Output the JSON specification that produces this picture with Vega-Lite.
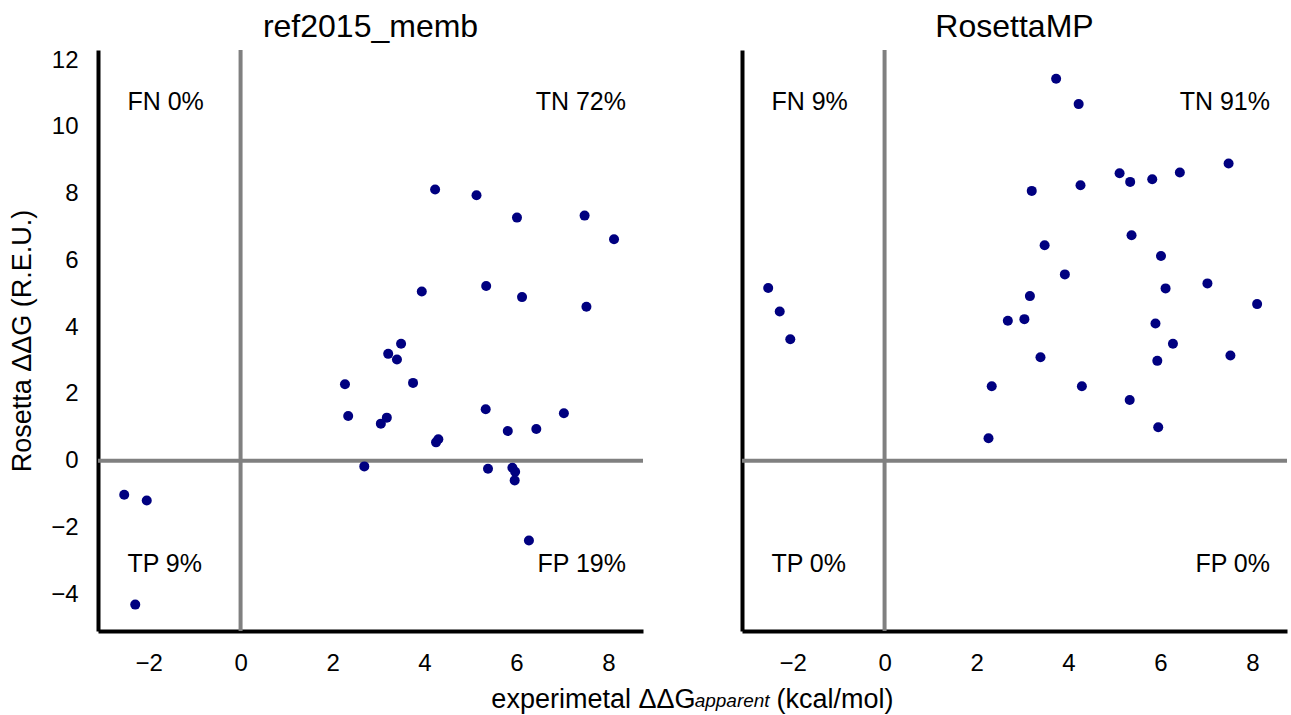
{
  "$schema": "https://vega.github.io/schema/vega-lite/v6.json",
  "background": "white",
  "padding": {"left": 8, "top": 11, "right": 2, "bottom": 2},
  "spacing": 45,
  "config": {
    "font": "Liberation Sans",
    "view": {"stroke": null},
    "axis": {
      "domainColor": "black",
      "domainWidth": 4,
      "ticks": false,
      "tickSize": 0,
      "grid": false,
      "labelFont": "Liberation Sans",
      "labelFontSize": 24,
      "labelColor": "black",
      "labelPadding": 20,
      "labelFlush": false,
      "titleFont": "Liberation Sans",
      "titleFontSize": 27,
      "titleFontWeight": "normal",
      "titleColor": "black",
      "zindex": 1
    },
    "axisX": {"titlePadding": 11},
    "axisY": {"titlePadding": 14},
    "title": {"font": "Liberation Sans", "fontSize": 32, "fontWeight": "normal", "color": "black", "offset": 4}
  },
  "title": {
    "text": "apparent",
    "orient": "bottom",
    "anchor": "start",
    "frame": "bounds",
    "dx": 686,
    "offset": -5,
    "baseline": "alphabetic",
    "fontSize": 19,
    "fontStyle": "italic",
    "fontWeight": "normal",
    "color": "black"
  },
  "datasets": {
    "ref": [
      {"x": -2.53, "y": -1.02}, {"x": -2.04, "y": -1.19}, {"x": -2.29, "y": -4.31},
      {"x": 2.27, "y": 2.29}, {"x": 2.34, "y": 1.34}, {"x": 2.69, "y": -0.17}, {"x": 3.05, "y": 1.11},
      {"x": 3.18, "y": 1.29}, {"x": 3.21, "y": 3.2}, {"x": 3.4, "y": 3.03}, {"x": 3.49, "y": 3.5},
      {"x": 3.75, "y": 2.33}, {"x": 3.94, "y": 5.07}, {"x": 4.23, "y": 8.12}, {"x": 4.25, "y": 0.55},
      {"x": 4.3, "y": 0.64}, {"x": 5.13, "y": 7.95}, {"x": 5.34, "y": 5.23}, {"x": 5.33, "y": 1.54},
      {"x": 5.38, "y": -0.24}, {"x": 5.81, "y": 0.89}, {"x": 5.91, "y": -0.21}, {"x": 5.97, "y": -0.33},
      {"x": 5.96, "y": -0.59}, {"x": 6.01, "y": 7.28}, {"x": 6.12, "y": 4.9}, {"x": 6.27, "y": -2.39},
      {"x": 6.43, "y": 0.95}, {"x": 7.03, "y": 1.42}, {"x": 7.48, "y": 7.34}, {"x": 7.52, "y": 4.61},
      {"x": 8.12, "y": 6.63}
    ],
    "mp": [
      {"x": -2.53, "y": 5.17}, {"x": -2.28, "y": 4.47}, {"x": -2.05, "y": 3.64},
      {"x": 3.73, "y": 11.44}, {"x": 4.22, "y": 10.68}, {"x": 7.48, "y": 8.9}, {"x": 5.11, "y": 8.61},
      {"x": 5.34, "y": 8.35}, {"x": 5.82, "y": 8.43}, {"x": 6.42, "y": 8.63}, {"x": 3.2, "y": 8.08},
      {"x": 4.26, "y": 8.25}, {"x": 5.37, "y": 6.75}, {"x": 3.48, "y": 6.45}, {"x": 6.01, "y": 6.13},
      {"x": 3.92, "y": 5.58}, {"x": 7.02, "y": 5.31}, {"x": 6.11, "y": 5.16}, {"x": 3.16, "y": 4.93},
      {"x": 8.1, "y": 4.69}, {"x": 2.68, "y": 4.19}, {"x": 3.04, "y": 4.24}, {"x": 5.89, "y": 4.11},
      {"x": 6.27, "y": 3.5}, {"x": 3.39, "y": 3.1}, {"x": 5.93, "y": 2.99}, {"x": 7.52, "y": 3.15},
      {"x": 2.33, "y": 2.23}, {"x": 4.29, "y": 2.23}, {"x": 5.33, "y": 1.82}, {"x": 5.95, "y": 1.0},
      {"x": 2.26, "y": 0.67}
    ],
    "labels": [
      {"panel": "ref", "side": "left", "x": -2.46, "y": 10.75, "label": "FN 0%"},
      {"panel": "ref", "side": "right", "x": 8.38, "y": 10.75, "label": "TN 72%"},
      {"panel": "ref", "side": "left", "x": -2.46, "y": -3.08, "label": "TP 9%"},
      {"panel": "ref", "side": "right", "x": 8.38, "y": -3.08, "label": "FP 19%"},
      {"panel": "mp", "side": "left", "x": -2.46, "y": 10.75, "label": "FN 9%"},
      {"panel": "mp", "side": "right", "x": 8.38, "y": 10.75, "label": "TN 91%"},
      {"panel": "mp", "side": "left", "x": -2.46, "y": -3.08, "label": "TP 0%"},
      {"panel": "mp", "side": "right", "x": 8.38, "y": -3.08, "label": "FP 0%"}
    ],
    "zero": [{"v": 0}]
  },
  "hconcat": [
    {
      "width": 545,
      "height": 581,
      "title": {"text": "ref2015_memb", "anchor": "middle"},
      "layer": [
        {
          "data": {"name": "zero"},
          "mark": {"type": "rule", "color": "#808080", "strokeWidth": 4},
          "encoding": {
            "x": {"field": "v", "type": "quantitative", "title": "experimetal ΔΔG", "scale": {"domain": [-3.1, 8.75], "nice": false, "zero": false}}
          }
        },
        {
          "data": {"name": "zero"},
          "mark": {"type": "rule", "color": "#808080", "strokeWidth": 4},
          "encoding": {
            "y": {"field": "v", "type": "quantitative", "title": "Rosetta ΔΔG (R.E.U.)", "scale": {"domain": [-5.1, 12.3], "nice": false, "zero": false}}
          }
        },
        {
          "data": {"name": "ref"},
          "mark": {"type": "circle", "color": "#000080", "size": 100, "opacity": 1},
          "encoding": {
            "x": {"field": "x", "type": "quantitative", "title": "experimetal ΔΔG",
                  "scale": {"domain": [-3.1, 8.75], "nice": false, "zero": false},
                  "axis": {"values": [-2, 0, 2, 4, 6, 8], "titleX": 597, "titleAlign": "right"}},
            "y": {"field": "y", "type": "quantitative", "title": "Rosetta ΔΔG (R.E.U.)",
                  "scale": {"domain": [-5.1, 12.3], "nice": false, "zero": false},
                  "axis": {"values": [-4, -2, 0, 2, 4, 6, 8, 10, 12]}}
          }
        },
        {
          "data": {"name": "labels"},
          "transform": [{"filter": "datum.panel == 'ref' && datum.side == 'left'"}],
          "mark": {"type": "text", "align": "left", "baseline": "middle", "fontSize": 25, "font": "Liberation Sans", "color": "black"},
          "encoding": {
            "x": {"field": "x", "type": "quantitative", "title": "experimetal ΔΔG", "scale": {"domain": [-3.1, 8.75], "nice": false, "zero": false}},
            "y": {"field": "y", "type": "quantitative", "title": "Rosetta ΔΔG (R.E.U.)", "scale": {"domain": [-5.1, 12.3], "nice": false, "zero": false}},
            "text": {"field": "label"}
          }
        },
        {
          "data": {"name": "labels"},
          "transform": [{"filter": "datum.panel == 'ref' && datum.side == 'right'"}],
          "mark": {"type": "text", "align": "right", "baseline": "middle", "fontSize": 25, "font": "Liberation Sans", "color": "black"},
          "encoding": {
            "x": {"field": "x", "type": "quantitative", "title": "experimetal ΔΔG", "scale": {"domain": [-3.1, 8.75], "nice": false, "zero": false}},
            "y": {"field": "y", "type": "quantitative", "title": "Rosetta ΔΔG (R.E.U.)", "scale": {"domain": [-5.1, 12.3], "nice": false, "zero": false}},
            "text": {"field": "label"}
          }
        }
      ]
    },
    {
      "width": 545,
      "height": 581,
      "title": {"text": "RosettaMP", "anchor": "middle"},
      "layer": [
        {
          "data": {"name": "zero"},
          "mark": {"type": "rule", "color": "#808080", "strokeWidth": 4},
          "encoding": {
            "x": {"field": "v", "type": "quantitative", "title": "(kcal/mol)", "scale": {"domain": [-3.1, 8.75], "nice": false, "zero": false}}
          }
        },
        {
          "data": {"name": "zero"},
          "mark": {"type": "rule", "color": "#808080", "strokeWidth": 4},
          "encoding": {
            "y": {"field": "v", "type": "quantitative", "title": null, "scale": {"domain": [-5.1, 12.3], "nice": false, "zero": false}}
          }
        },
        {
          "data": {"name": "mp"},
          "mark": {"type": "circle", "color": "#000080", "size": 100, "opacity": 1},
          "encoding": {
            "x": {"field": "x", "type": "quantitative", "title": "(kcal/mol)",
                  "scale": {"domain": [-3.1, 8.75], "nice": false, "zero": false},
                  "axis": {"values": [-2, 0, 2, 4, 6, 8], "titleX": 34, "titleAlign": "left"}},
            "y": {"field": "y", "type": "quantitative", "title": null,
                  "scale": {"domain": [-5.1, 12.3], "nice": false, "zero": false},
                  "axis": {"labels": false, "values": [-4, -2, 0, 2, 4, 6, 8, 10, 12]}}
          }
        },
        {
          "data": {"name": "labels"},
          "transform": [{"filter": "datum.panel == 'mp' && datum.side == 'left'"}],
          "mark": {"type": "text", "align": "left", "baseline": "middle", "fontSize": 25, "font": "Liberation Sans", "color": "black"},
          "encoding": {
            "x": {"field": "x", "type": "quantitative", "title": "(kcal/mol)", "scale": {"domain": [-3.1, 8.75], "nice": false, "zero": false}},
            "y": {"field": "y", "type": "quantitative", "title": null, "scale": {"domain": [-5.1, 12.3], "nice": false, "zero": false}},
            "text": {"field": "label"}
          }
        },
        {
          "data": {"name": "labels"},
          "transform": [{"filter": "datum.panel == 'mp' && datum.side == 'right'"}],
          "mark": {"type": "text", "align": "right", "baseline": "middle", "fontSize": 25, "font": "Liberation Sans", "color": "black"},
          "encoding": {
            "x": {"field": "x", "type": "quantitative", "title": "(kcal/mol)", "scale": {"domain": [-3.1, 8.75], "nice": false, "zero": false}},
            "y": {"field": "y", "type": "quantitative", "title": null, "scale": {"domain": [-5.1, 12.3], "nice": false, "zero": false}},
            "text": {"field": "label"}
          }
        }
      ]
    }
  ]
}
